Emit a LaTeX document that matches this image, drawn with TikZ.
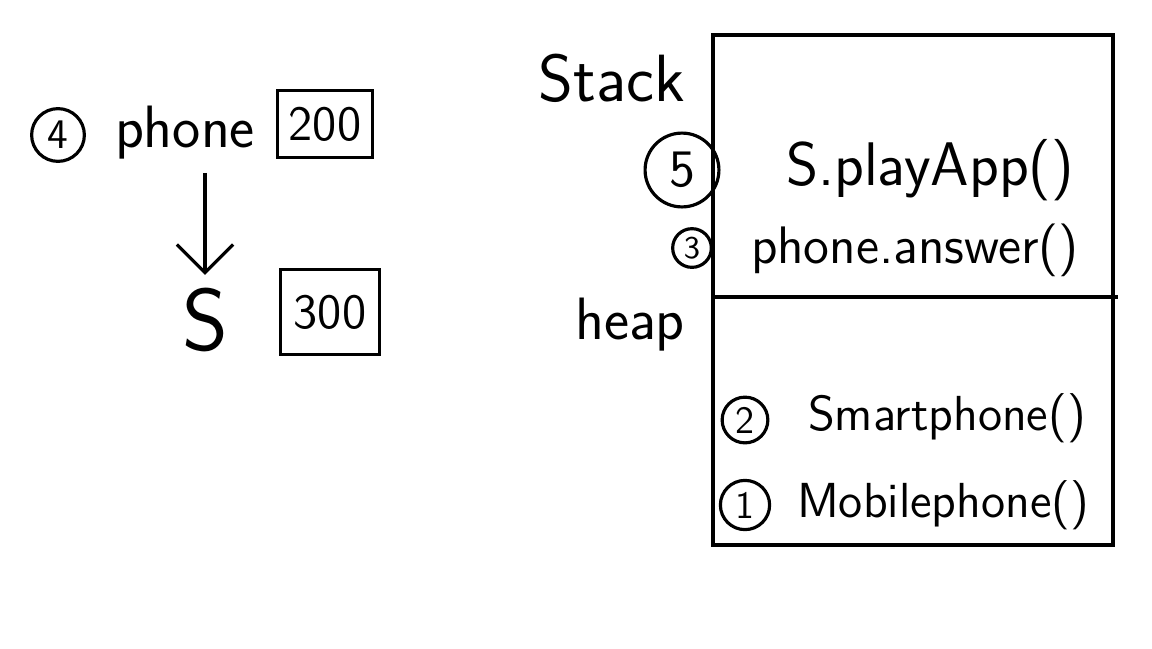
\documentclass[tikz,border=0pt]{standalone}
\usepackage{tikz}
\usetikzlibrary{arrows.meta}

\begin{document}
\begin{tikzpicture}[x=0.01cm,y=-0.01cm,line width=0.9pt,font=\sffamily,
  num/.style={draw,circle,inner sep=0pt,minimum size=#1},
  valbox/.style={draw,minimum width=#1,minimum height=19pt,font=\sffamily\fontsize{14}{14}\selectfont},
  fs/.style={font=\sffamily\fontsize{#1}{#1}\selectfont}]
\useasboundingbox (0,0) rectangle (1152,648);
% left: variables
\node[num=15pt,fs=12] (n4) at (58,135) {4};
\node[fs=17] (phone) at (185,133) {phone};
\node[valbox=27pt] (v200) at (325,124) {200};
\node[fs=25] (s) at (205,320) {S};
\node[valbox=28pt,minimum height=24pt] (v300) at (330,312) {300};
\draw[-{Straight Barb[length=8pt,width=16pt]}] (s.north |- phone.south) -- (s.north);
% right: memory
\draw (713,35) rectangle (1113,545);
\draw (713,297) -- (1118,297);
\node[fs=19] (stack) at (612,78) {Stack};
\node[fs=17] (heap) at (630,325) {heap};
\node[num=21pt,fs=15] (n5) at (682,170) {5};
\node[fs=17.5] (play) at (930,170) {S.playApp()};
\node[num=11pt,fs=9] (n3) at (692,248) {3};
\node[fs=15] (answer) at (915,250) {phone.answer()};
\node[num=13pt,fs=11] (n2) at (745,420) {2};
\node[fs=14] (smart) at (947,418) {Smartphone()};
\node[num=14pt,fs=11] (n1) at (745,505) {1};
\node[fs=14] (mobile) at (943,505) {Mobilephone()};
\end{tikzpicture}
\end{document}
